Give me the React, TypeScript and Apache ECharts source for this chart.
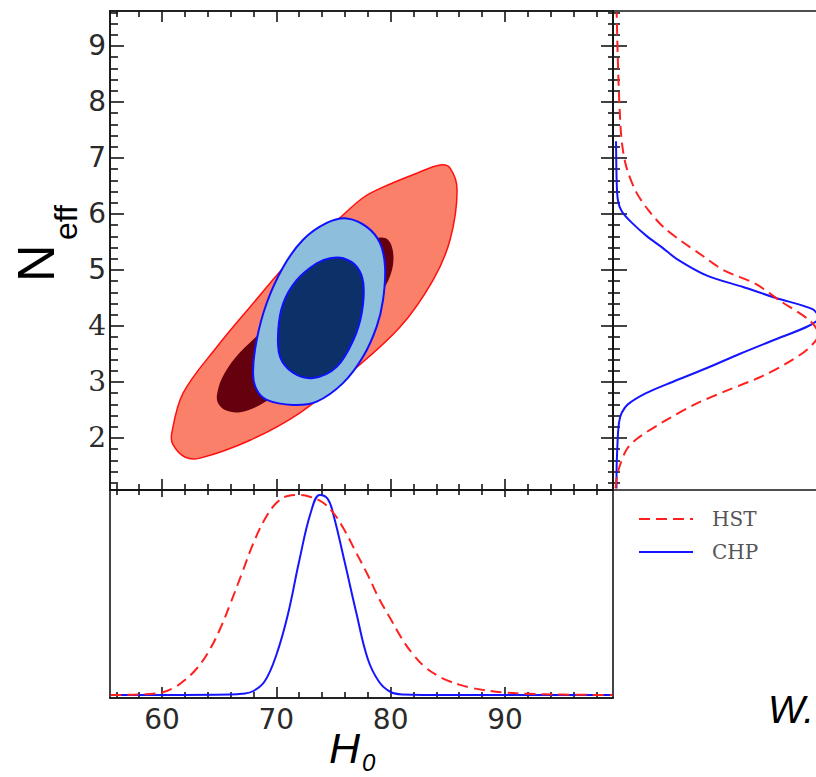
import React, { useEffect, useRef } from 'react';
import * as echarts from 'echarts';

// ---- axis ranges and ticks ----
const h0Range = [55.45, 99.45];
const nRange = [1.071, 9.625];
const pdfRangeBottom = [-0.015, 1.025];
const pdfRangeRight = [-0.013, 0.987];
const h0Major = [60, 70, 80, 90];
const h0Minor = [56, 58, 62, 64, 66, 68, 72, 74, 76, 78, 82, 84, 86, 88, 92, 94, 96, 98];
const nMajor = [2, 3, 4, 5, 6, 7, 8, 9];
const nMinor = [1.2, 1.4, 1.6, 1.8, 2.2, 2.4, 2.6, 2.8, 3.2, 3.4, 3.6, 3.8, 4.2, 4.4, 4.6, 4.8,
  5.2, 5.4, 5.6, 5.8, 6.2, 6.4, 6.6, 6.8, 7.2, 7.4, 7.6, 7.8, 8.2, 8.4, 8.6, 8.8, 9.2, 9.4, 9.6];

// ---- 2D contours [H0, Neff] ----
const hst2Sigma = [[60.85, 2.08], [61.84, 2.8], [64.81, 3.63], [67.7, 4.34], [72.07, 5.36], [75.31, 5.89],
  [77.58, 6.29], [79.33, 6.48], [82.31, 6.73], [84.32, 6.875], [85.2, 6.82], [85.81, 6.43], [85.2, 5.54],
  [83.71, 4.82], [80.82, 3.98], [76.45, 3.16], [72.07, 2.45], [67.7, 1.96], [63.32, 1.64], [62.0, 1.66], [60.96, 1.88]];
const hst1Sigma = [[64.81, 2.77], [65.25, 3.07], [66.39, 3.43], [68.14, 3.79], [71.2, 4.375], [74.7, 4.96],
  [77.32, 5.39], [78.9, 5.57], [79.77, 5.54], [80.21, 5.32], [80.12, 5.0], [79.33, 4.64], [77.32, 4.11],
  [73.82, 3.39], [71.2, 2.95], [68.57, 2.59], [66.82, 2.46], [65.51, 2.5], [64.9, 2.625]];
const chp2Sigma = [[76.16, 5.92], [77.91, 5.77], [79.07, 5.48], [79.51, 5.05], [79.33, 4.46], [78.78, 3.99],
  [77.58, 3.45], [75.83, 2.98], [73.53, 2.65], [71.46, 2.59], [69.16, 2.68], [68.28, 2.86], [67.96, 3.16],
  [68.28, 3.75], [69.16, 4.41], [70.59, 5.05], [72.34, 5.54], [74.41, 5.84]];
const chp1Sigma = [[75.86, 5.21], [77.03, 5.06], [77.61, 4.76], [77.47, 4.23], [76.74, 3.75], [75.28, 3.27],
  [73.24, 3.07], [71.49, 3.16], [70.32, 3.45], [70.17, 3.93], [70.61, 4.41], [71.78, 4.82], [73.53, 5.12], [74.7, 5.21]];

// ---- 1D marginal of H0 ----
const hstH0 = [55.5, 58, 60, 61, 62, 63, 64, 65, 66, 67, 68, 69, 70, 71, 72, 73, 74, 75, 76, 77, 78, 79, 80, 81, 82, 83, 84, 85, 86, 87, 88, 90, 92, 95, 99.4];
const hstH0Pdf = [0, 0.003, 0.013, 0.035, 0.075, 0.13, 0.21, 0.32, 0.46, 0.61, 0.76, 0.88, 0.96, 0.995, 1.0, 0.99, 0.965, 0.91, 0.82, 0.71, 0.6, 0.48, 0.38, 0.28, 0.2, 0.14, 0.1, 0.072, 0.052, 0.037, 0.026, 0.012, 0.006, 0.002, 0];
const chpH0 = [55.5, 60, 66, 67, 68, 69, 70, 71, 72, 73, 73.8, 74.5, 75, 76, 77, 78, 79, 80, 81, 85, 99.4];
const chpH0Pdf = [0, 0, 0.002, 0.006, 0.02, 0.07, 0.2, 0.4, 0.67, 0.91, 1.0, 0.98, 0.9, 0.66, 0.41, 0.18, 0.065, 0.015, 0.003, 0, 0];

// ---- 1D marginal of Neff ----
const hstN = [1.1, 1.3, 1.5, 1.8, 2.0, 2.3, 2.6, 2.85, 3.1, 3.35, 3.6, 3.85, 4.1, 4.45, 4.75, 5.0, 5.25, 5.5, 5.75, 6.05, 6.4, 6.85, 7.3, 7.85, 8.6, 9.6];
const hstNPdf = [0, 0.006, 0.02, 0.055, 0.11, 0.24, 0.39, 0.55, 0.72, 0.85, 0.95, 1.0, 0.955, 0.81, 0.69, 0.53, 0.43, 0.33, 0.24, 0.165, 0.1, 0.052, 0.03, 0.02, 0.012, 0.005];
const chpN = [1.1, 1.5, 1.8, 2.1, 2.3, 2.45, 2.6, 2.8, 3.0, 3.25, 3.5, 3.75, 4.0, 4.15, 4.3, 4.5, 4.7, 4.9, 5.2, 5.4, 5.6, 5.85, 6.05, 6.25, 6.6, 7.3];
const chpNPdf = [0.004, 0.005, 0.008, 0.012, 0.018, 0.03, 0.06, 0.15, 0.28, 0.45, 0.61, 0.78, 0.95, 1.0, 0.97, 0.79, 0.625, 0.45, 0.3, 0.23, 0.155, 0.078, 0.03, 0.011, 0.005, 0.002];

const seriesNames = ['HST', 'CHP'];

const LINE = { color: '#151515', width: 1.6 };

function axis(grid: number, position: string, range: number[], ticks: number[] | null, len: number, label?: any) {
  return {
    type: 'value',
    gridIndex: grid,
    position,
    min: range[0],
    max: range[1],
    axisLine: { show: true, onZero: false, lineStyle: LINE },
    axisTick: ticks
      ? { show: true, inside: true, length: len, customValues: ticks, lineStyle: LINE }
      : { show: false },
    axisLabel: label || { show: false },
    splitLine: { show: false },
  };
}

function contour(points: number[][], fill: string, stroke: string | null, lw: number, z: number) {
  return {
    type: 'custom',
    xAxisIndex: 0,
    yAxisIndex: 0,
    z,
    silent: true,
    data: points,
    encode: { x: 0, y: 1 },
    renderItem: (params: any, api: any) => {
      if (params.dataIndex !== 0) return null;
      const pts = points.map((p) => api.coord(p));
      return {
        type: 'polygon',
        shape: { points: pts, smooth: 0.35 },
        style: { fill, stroke: stroke || 'none', lineWidth: lw },
      };
    },
  };
}

const zip = (a: number[], b: number[]) => a.map((v, i) => [v, b[i]]);

export default function App() {
  const ref = useRef<HTMLDivElement>(null);
  useEffect(() => {
    const chart = echarts.init(ref.current!, null, { renderer: 'svg' });
    const labelFont = 'DejaVu Sans';
    const dash = [11, 6];
    chart.setOption({
      animation: false,
      backgroundColor: '#ffffff',
      grid: [
        { left: 110, top: 11, width: 503, height: 479 },
        { left: 110, top: 490, width: 503, height: 208 },
        { left: 613, top: 11, width: 210, height: 479 },
      ],
      xAxis: [
        axis(0, 'bottom', h0Range, h0Major, 11),
        axis(0, 'bottom', h0Range, h0Minor, 6),
        axis(0, 'top', h0Range, h0Major, 11),
        axis(0, 'top', h0Range, h0Minor, 6),
        axis(1, 'bottom', h0Range, h0Major, 11, {
          show: true,
          customValues: h0Major,
          margin: 7,
          fontFamily: labelFont,
          fontSize: 28,
          color: '#2a2a2a',
        }),
        axis(1, 'bottom', h0Range, h0Minor, 6),
        axis(1, 'top', h0Range, h0Major, 7),
        axis(1, 'top', h0Range, h0Minor, 5),
        axis(2, 'bottom', pdfRangeRight, null, 0),
        axis(2, 'top', pdfRangeRight, null, 0),
      ],
      yAxis: [
        axis(0, 'left', nRange, nMajor, 14, {
          show: true,
          customValues: nMajor,
          margin: 4,
          formatter: (v: number) => (v <= 4 ? `{s|${v}}` : `{n|${v}}`),
          rich: {
            s: { fontFamily: 'DejaVu Serif', fontSize: 28, color: '#2a2a2a' },
            n: { fontFamily: labelFont, fontSize: 28, color: '#2a2a2a' },
          },
        }),
        axis(0, 'left', nRange, nMinor, 8),
        axis(0, 'right', nRange, nMajor, 12),
        axis(0, 'right', nRange, nMinor, 5),
        axis(1, 'left', pdfRangeBottom, null, 0),
        axis(1, 'right', pdfRangeBottom, null, 0),
        axis(2, 'left', nRange, nMajor, 14),
        axis(2, 'left', nRange, nMinor, 7),
      ],
      legend: {
        data: seriesNames,
        orient: 'vertical',
        left: 638,
        top: 509,
        padding: 0,
        itemWidth: 54,
        itemHeight: 14,
        itemGap: 13,
        selectedMode: false,
        itemStyle: { color: 'rgba(0,0,0,0)', borderWidth: 0, opacity: 0 },
        textStyle: {
          fontFamily: 'DejaVu Serif',
          fontSize: 20,
          color: '#555555',
          lineHeight: 14,
          padding: [0, 0, 0, 14],
        },
      },
      series: [
        contour(hst2Sigma, '#FA8069', '#FF1010', 1.5, 1),
        contour(hst1Sigma, '#65000F', null, 0, 2),
        contour(chp2Sigma, '#8DBEDC', '#1010FF', 2, 3),
        contour(chp1Sigma, '#0B3168', '#1010FF', 2, 4),
        {
          name: 'CHP',
          type: 'line',
          xAxisIndex: 4,
          yAxisIndex: 4,
          data: zip(chpH0, chpH0Pdf),
          symbol: 'none',
          smooth: 0.4,
          lineStyle: { color: '#1515FF', width: 2 },
          itemStyle: { color: '#1515FF' },
        },
        {
          name: 'HST',
          type: 'line',
          xAxisIndex: 4,
          yAxisIndex: 4,
          data: zip(hstH0, hstH0Pdf),
          symbol: 'none',
          smooth: 0.4,
          lineStyle: { color: '#FF2020', width: 2, type: dash },
          itemStyle: { color: '#FF2020' },
        },
        {
          name: 'CHP',
          type: 'line',
          xAxisIndex: 8,
          yAxisIndex: 6,
          data: zip(chpNPdf, chpN),
          symbol: 'none',
          smooth: 0.3,
          lineStyle: { color: '#1515FF', width: 2 },
          itemStyle: { color: '#1515FF' },
        },
        {
          name: 'HST',
          type: 'line',
          xAxisIndex: 8,
          yAxisIndex: 6,
          data: zip(hstNPdf, hstN),
          symbol: 'none',
          smooth: 0.3,
          lineStyle: { color: '#FF2020', width: 2, type: dash },
          itemStyle: { color: '#FF2020' },
        },
      ],
      graphic: [
        {
          type: 'text', x: 36, y: 282, rotation: Math.PI / 2,
          style: { text: 'N', fontFamily: 'Liberation Sans', fontSize: 52, fill: '#000', align: 'left', verticalAlign: 'middle' },
        },
        {
          type: 'text', x: 66, y: 240, rotation: Math.PI / 2,
          style: { text: 'eff', fontFamily: 'Liberation Sans', fontSize: 32, fill: '#000', align: 'left', verticalAlign: 'middle' },
        },
        {
          type: 'text', x: 329, y: 748,
          style: { text: 'H', fontFamily: 'Liberation Sans', fontStyle: 'italic', fontSize: 43, fill: '#000', align: 'left', verticalAlign: 'middle' },
        },
        {
          type: 'text', x: 362, y: 762,
          style: { text: '0', fontFamily: 'Liberation Sans', fontStyle: 'italic', fontSize: 24, fill: '#000', align: 'left', verticalAlign: 'middle' },
        },
        {
          type: 'text', x: 768, y: 709,
          style: { text: 'W.', fontFamily: 'Liberation Sans', fontStyle: 'italic', fontSize: 39, fill: '#000', align: 'left', verticalAlign: 'middle' },
        },
      ],
    });
    return () => chart.dispose();
  }, []);
  return (
    <div
      ref={ref}
      style={{ position: 'absolute', left: 0, top: 0, width: 816, height: 777, background: '#fff' }}
    />
  );
}
